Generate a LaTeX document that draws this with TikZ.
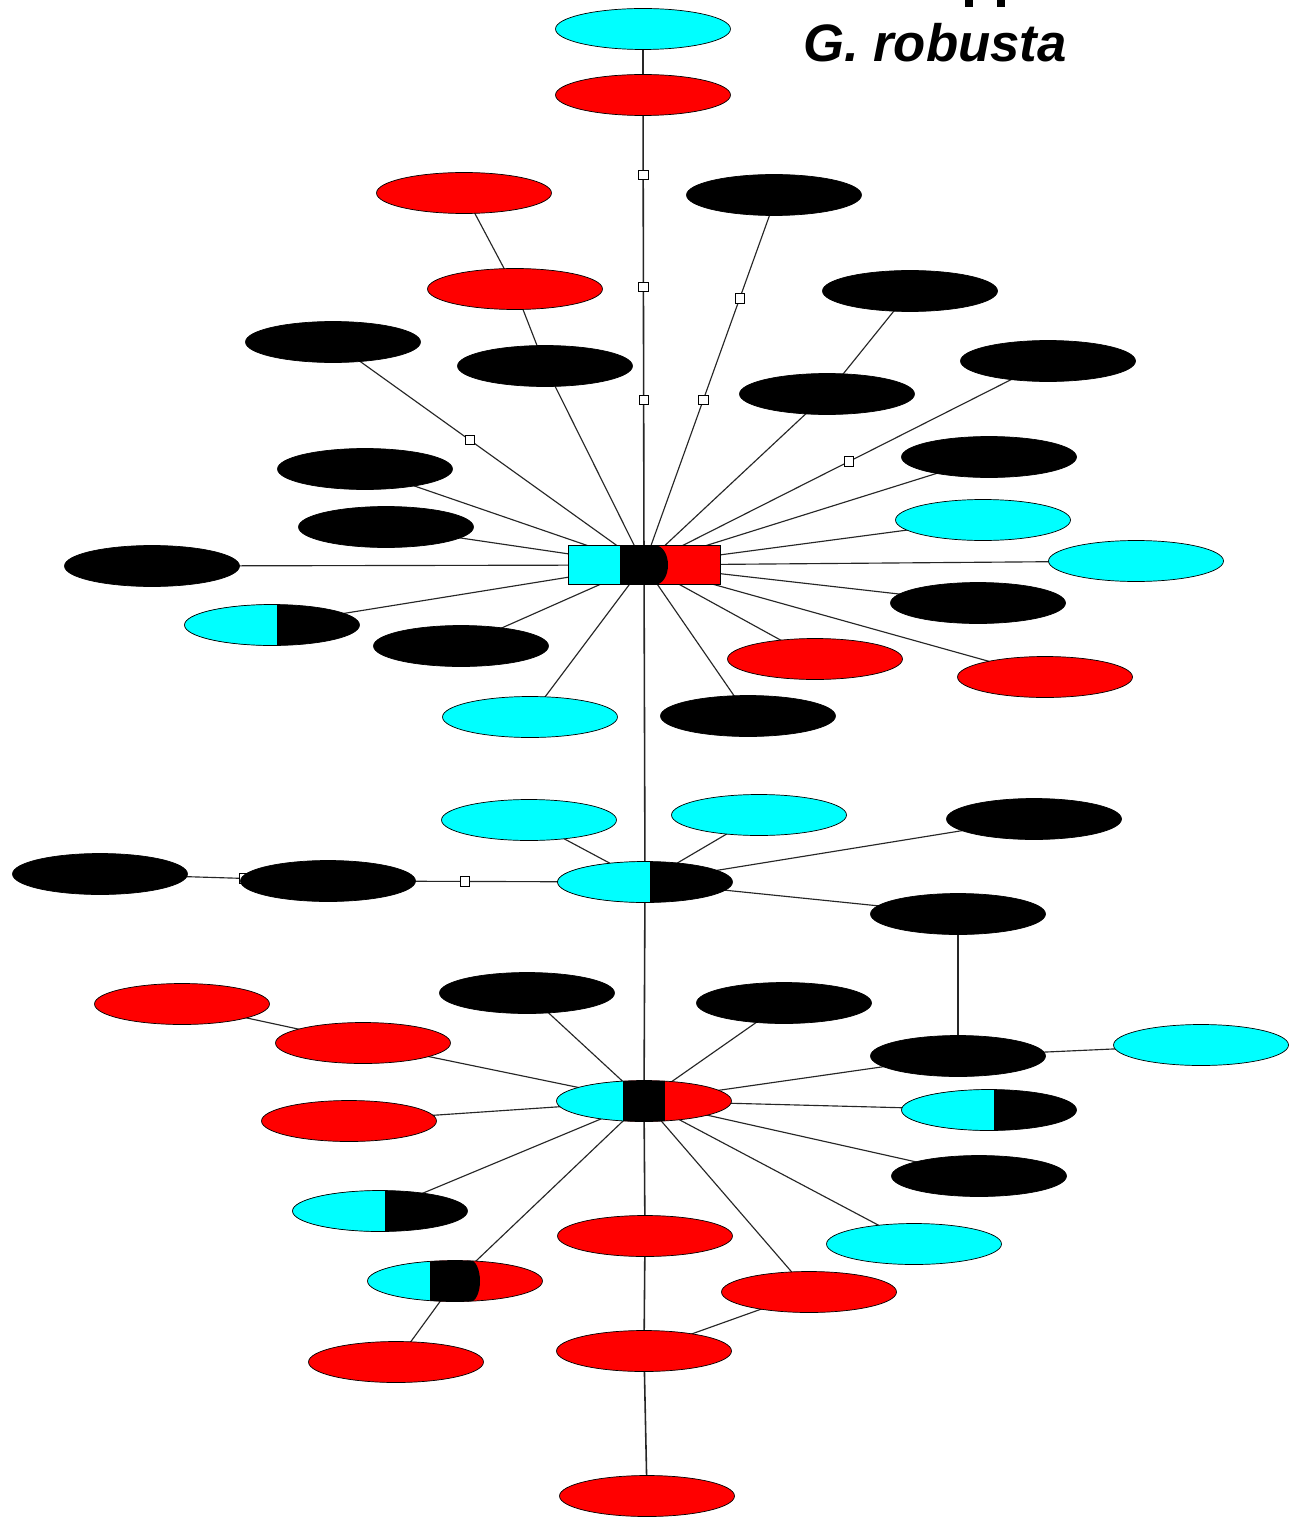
\documentclass[tikz,border=0pt]{standalone}
\usepackage{fontspec}
\setmainfont{Liberation Sans}
\usetikzlibrary{shapes.geometric,backgrounds}
\definecolor{cyn}{RGB}{0,255,255}
\definecolor{rdc}{RGB}{255,0,0}
\pgfdeclarelayer{bottom}
\pgfsetlayers{bottom,background,main}
\begin{document}
\begin{tikzpicture}[x=0.02cm,y=-0.02cm,
  ell/.style={ellipse,minimum width=3.5cm,minimum height=0.82cm,inner sep=0pt,draw=black,line width=0.4pt},
  cyanell/.style={ell,fill=cyn},
  redell/.style={ell,fill=rdc},
  blackell/.style={ell,fill=black},
  cybk/.style={ell,fill=black,path picture={\fill[cyn] (path picture bounding box.south west) rectangle ([xshift=0.1cm]path picture bounding box.north);}},
  hubthree/.style={ell,fill=rdc,path picture={
     \fill[cyn] (path picture bounding box.south west) rectangle ([xshift=-0.42cm]path picture bounding box.north);
     \fill[black] ([xshift=-0.42cm]path picture bounding box.south) rectangle ([xshift=0.42cm]path picture bounding box.north);}},
  tri/.style={ell,fill=rdc,path picture={
     \fill[cyn] (path picture bounding box.south west) rectangle ([xshift=-0.5cm]path picture bounding box.north);
     \fill[black] ([xshift=-0.5cm]path picture bounding box.south) rectangle ([xshift=0.3cm]path picture bounding box.north);
     \fill[black] ([xshift=0.3cm]path picture bounding box.center) ellipse (0.2cm and 0.42cm);}},
  hubone/.style={rectangle,minimum width=3.04cm,minimum height=0.78cm,inner sep=0pt,draw=black,line width=0.4pt,fill=rdc,path picture={
     \fill[cyn] (path picture bounding box.south west) rectangle ([xshift=1.04cm]path picture bounding box.north west);
     \fill[black] ([xshift=1.04cm]path picture bounding box.south west) rectangle ([xshift=1.75cm]path picture bounding box.north west);
     \fill[black] ([xshift=1.75cm]path picture bounding box.west) ellipse (0.25cm and 0.39cm);}},
  edge/.style={draw=black!85,line width=0.65pt},
  trunk/.style={draw=black!85,line width=0.9pt},
  sq/.style={rectangle,draw=black,fill=white,line width=0.45pt,minimum size=0.19cm,inner sep=0pt}
]
\useasboundingbox (0,0) rectangle (1296,1520);
\begin{pgfonlayer}{bottom}
  \fill[white] (0,0) rectangle (1296,1520);
\end{pgfonlayer}

% partial title strokes cut at top
\fill[black] (965,0) rectangle (973,7);
\fill[black] (997,0) rectangle (1005,7);
\node[font=\bfseries\itshape\fontsize{30}{36}\selectfont,anchor=base,inner sep=0pt] (title) at (935,62) {G. robusta};

% upper cluster
\node[cyanell]  (n1)  at (643,29) {};
\node[redell]   (n2)  at (643,95) {};
\node[redell]   (n3)  at (464,193) {};
\node[blackell] (n4)  at (774,195) {};
\node[redell]   (n5)  at (515,289) {};
\node[blackell] (n6)  at (910,291) {};
\node[blackell] (n7)  at (333,342) {};
\node[blackell] (n8)  at (545,366) {};
\node[blackell] (n9)  at (1048,361) {};
\node[blackell] (n10) at (827,394) {};
\node[blackell] (n11) at (365,469) {};
\node[blackell] (n12) at (989,457) {};
\node[blackell] (n13) at (386,527) {};
\node[cyanell]  (n14) at (983,520) {};
\node[blackell] (n15) at (152,566) {};
\node[cyanell]  (n16) at (1136,561) {};
\node[cybk]     (n17) at (272,625) {};
\node[blackell] (n18) at (978,603) {};
\node[blackell] (n19) at (461,646) {};
\node[redell]   (n20) at (815,659) {};
\node[redell]   (n21) at (1045,677) {};
\node[cyanell]  (n22) at (530,717) {};
\node[blackell] (n23) at (748,716) {};
\node[hubone]   (h1)  at (644,565) {};

% middle cluster
\node[cyanell]  (n24) at (529,820) {};
\node[cyanell]  (n25) at (759,815) {};
\node[blackell] (n26) at (1034,819) {};
\node[blackell] (n27) at (100,874) {};
\node[blackell] (n28) at (328,881) {};
\node[cybk]     (h2)  at (645,882) {};
\node[blackell] (n29) at (958,914) {};

% lower cluster
\node[redell]   (n30) at (182,1004) {};
\node[blackell] (n31) at (527,993) {};
\node[blackell] (n32) at (784,1003) {};
\node[redell]   (n33) at (363,1043) {};
\node[blackell] (n34) at (958,1056) {};
\node[cyanell]  (n35) at (1201,1045) {};
\node[hubthree] (h3)  at (644,1101) {};
\node[redell]   (n36) at (349,1121) {};
\node[cybk]     (n37) at (989,1110) {};
\node[blackell] (n38) at (979,1176) {};
\node[cybk]     (n39) at (380,1211) {};
\node[redell]   (n40) at (645,1236) {};
\node[cyanell]  (n41) at (914,1244) {};
\node[tri]      (n42) at (455,1281) {};
\node[redell]   (n43) at (809,1292) {};
\node[redell]   (n44) at (396,1362) {};
\node[redell]   (n45) at (644,1351) {};
\node[redell]   (n46) at (647,1496) {};

\coordinate (n4foot) at (770,214);

\begin{pgfonlayer}{background}
  \draw[trunk] (n1.center) -- (n2.center);
  \draw[trunk] (n2.center) -- node[sq,pos=0.17]{} node[sq,pos=0.408]{} node[sq,pos=0.649]{} (h1.center);
  \draw[edge] (n3.center) -- (n5.center);
  \draw[edge] (n5.center) -- (n8.center);
  \draw[edge] (n8.center) -- (h1.center);
  \draw[edge] (n4.center) -- (n4foot) -- node[sq,pos=0.24]{} node[sq,pos=0.53]{} (h1.center);
  \draw[edge] (n6.center) -- (n10.center);
  \draw[edge] (n10.center) -- (h1.center);
  \draw[edge] (n7.center) -- node[sq,pos=0.44]{} (h1.center);
  \draw[edge] (n9.center) -- node[sq,pos=0.493]{} (h1.center);
  \foreach \n in {n11,n12,n13,n14,n15,n16,n17,n18,n19,n20,n21,n22,n23}
    \draw[edge] (\n.center) -- (h1.center);
  \draw[trunk] (h1.center) -- (h2.center);
  \foreach \n in {n24,n25,n26,n29}
    \draw[edge] (\n.center) -- (h2.center);
  \draw[edge] (n27.center) -- node[sq,pos=0.63]{} (n28.center);
  \draw[edge] (n28.center) -- node[sq,pos=0.432]{} (h2.center);
  \draw[edge] (n29.center) -- (n34.center);
  \draw[trunk] (h2.center) -- (h3.center);
  \draw[edge] (n30.center) -- (n33.center);
  \draw[edge] (n34.center) -- (n35.center);
  \foreach \n in {n31,n32,n33,n34,n36,n37,n38,n39,n41,n42,n43}
    \draw[edge] (\n.center) -- (h3.center);
  \draw[trunk] (n40.center) -- (h3.center);
  \draw[trunk] (n40.center) -- (n45.center);
  \draw[trunk] (n45.center) -- (n46.center);
  \draw[edge] (n43.center) -- (n45.center);
  \draw[edge] (n42.center) -- (n44.center);
\end{pgfonlayer}
\end{tikzpicture}
\end{document}
